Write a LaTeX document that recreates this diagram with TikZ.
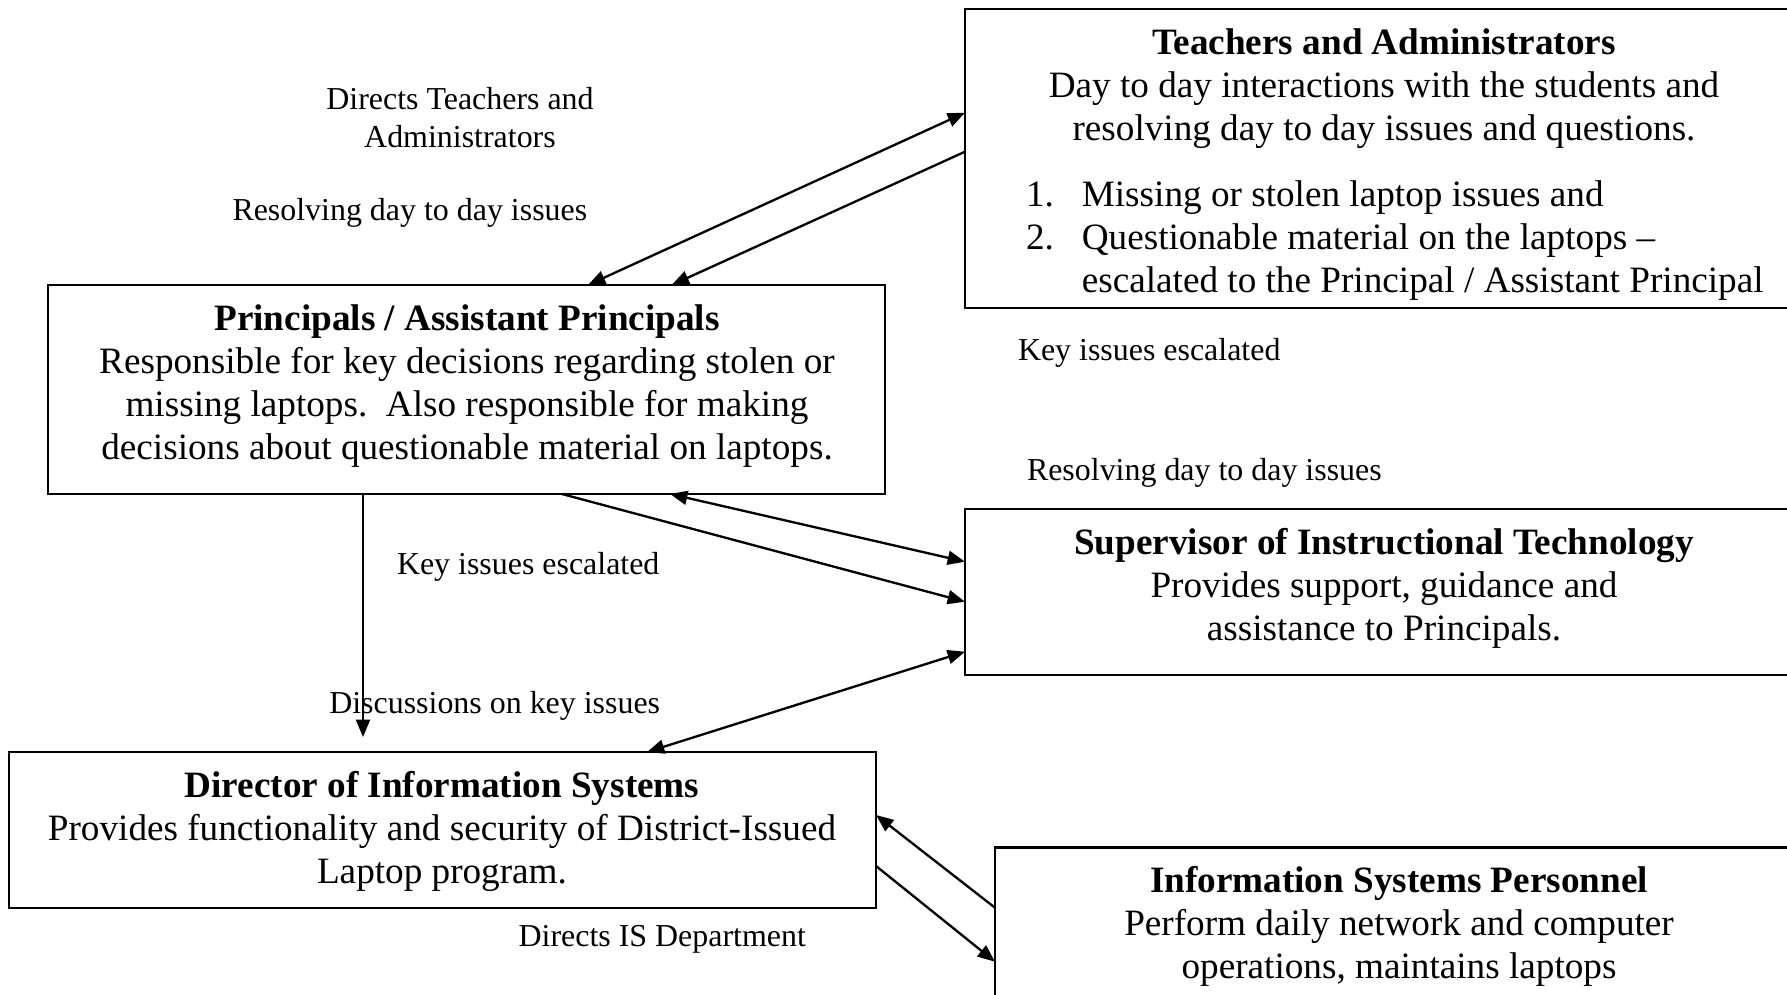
\documentclass[tikz,border=0pt]{standalone}
\usepackage{fontspec}
\setmainfont{Liberation Serif}
\usetikzlibrary{arrows.meta,calc}
\newcommand\bodyfnt{\fontsize{12}{13.8}\selectfont}
\newcommand\labfnt{\fontsize{10.3}{12.1}\selectfont}
\begin{document}
\begin{tikzpicture}[x=0.3226pt,y=-0.3226pt,
  box/.style={draw, line width=0.7pt, inner sep=0pt, outer sep=0pt, anchor=north west},
  boxtext/.style={inner sep=0pt, outer sep=0pt, align=center, anchor=north, font=\bodyfnt},
  listtext/.style={inner sep=0pt, outer sep=0pt, align=left, anchor=north west, font=\bodyfnt},
  lab/.style={inner sep=0pt, outer sep=0pt, anchor=base west, font=\labfnt},
  labc/.style={inner sep=0pt, outer sep=0pt, align=center, anchor=north, font=\labfnt},
  conn/.style={line width=0.75pt, -{Triangle[length=5.6pt,width=4.5pt]}},
  dconn/.style={line width=0.75pt, {Triangle[length=5.6pt,width=4.5pt]}-{Triangle[length=5.6pt,width=4.5pt]}}]
\fill[white] (0,0) rectangle (1787,994);
\useasboundingbox (0,0) rectangle (1787,994);

% boxes
\node[box, minimum width=269.4pt, minimum height=96.5pt] (tch) at (965,9) {};
\node[box, minimum width=270.0pt, minimum height=67.4pt] (pri) at (48,285) {};
\node[box, minimum width=269.4pt, minimum height=53.6pt] (sup) at (965,509) {};
\node[box, minimum width=279.7pt, minimum height=50.2pt] (dir) at (9,752) {};
\node[box, minimum width=259.7pt, minimum height=52.3pt] (isp) at (995,847.5) {};

% box texts
\node[boxtext] (tchT) at (1384,25) {\strut\textbf{Teachers and Administrators}\\
  Day to day interactions with the students and\\
  resolving day to day issues and questions.};
\node[listtext] (tchL) at (1026,177) {\strut\makebox[18pt][l]{1.}Missing or stolen laptop issues and\\
  \makebox[18pt][l]{2.}Questionable material on the laptops --\\
  \hspace*{18pt}escalated to the Principal / Assistant Principal};
\node[boxtext] (priT) at (467,301) {\strut\textbf{Principals / Assistant Principals}\\
  Responsible for key decisions regarding stolen or\\
  missing laptops.\ \ Also responsible for making\\
  decisions about questionable material on laptops.};
\node[boxtext] (supT) at (1384,525) {\strut\textbf{Supervisor of Instructional Technology}\\
  Provides support, guidance and\\
  assistance to Principals.};
\node[boxtext] (dirT) at (442,768) {\strut\textbf{Director of Information Systems}\\
  Provides functionality and security of District-Issued\\
  Laptop program.};
\node[boxtext] (ispT) at (1399,863) {\strut\textbf{Information Systems Personnel}\\
  Perform daily network and computer\\
  operations, maintains laptops};

% labels
\node[labc] (l1) at (460,83.7) {\strut Directs Teachers and\\Administrators};
\node[lab] (l2) at (232.5,220.5) {Resolving day to day issues};
\node[lab] (l3) at (1018,360.7) {Key issues escalated};
\node[lab] (l4) at (1027,480.4) {Resolving day to day issues};
\node[lab] (l5) at (397,574) {Key issues escalated};
\node[lab] (l6) at (329.3,713.5) {Discussions on key issues};
\node[lab] (l7) at (518.6,946) {Directs IS Department};

% connectors
\coordinate (a5end) at (363,737);
\draw[dconn] ($(pri.north west)+(540,0)$) -- ($(tch.north west)+(0,103.7)$);
\draw[conn] ($(tch.north west)+(0,142.7)$) -- ($(pri.north west)+(623.7,0)$);
\draw[dconn] ($(pri.south west)+(622,0)$) -- ($(sup.north west)+(0,52.7)$);
\draw[conn] ($(pri.south west)+(513.7,0)$) -- ($(sup.north west)+(0,92.7)$);
\draw[conn] ($(pri.south west)+(315,0)$) -- (a5end);
\draw[dconn] ($(sup.north west)+(0,142.7)$) -- ($(dir.north west)+(638,0)$);
\draw[conn] ($(isp.north west)+(0,60.2)$) -- ($(dir.north east)+(0,63)$);
\draw[conn] ($(dir.north east)+(0,114)$) -- ($(isp.north west)+(0,114.2)$);
\end{tikzpicture}
\end{document}
